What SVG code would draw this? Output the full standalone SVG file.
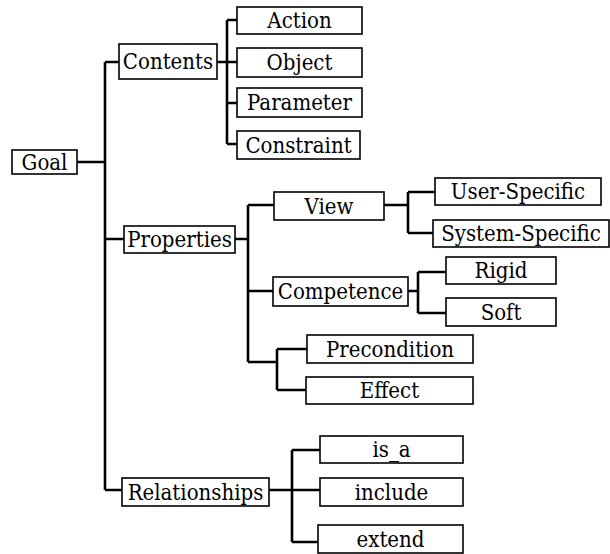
<svg xmlns="http://www.w3.org/2000/svg" width="610" height="554" viewBox="0 0 610 554">
<style>
.n rect{fill:#fff;stroke:#000;stroke-width:1.6}
.n text{font-family:'DejaVu Serif',serif;font-stretch:condensed;font-size:22px;fill:#000;text-anchor:middle}
#connectors path{fill:none;stroke:#000;stroke-width:2.6}
</style>
<rect width="610" height="554" fill="#fff"/>
<g id="connectors">
<path d="M77,162H105M105,62V490M105,62H119M105,239H124M105,490H122"/>
<path d="M217,62H237M227,20V144M227,20H237M227,103H237M227,144H237"/>
<path d="M235,239H248M248,205V362M248,205H274M248,291H273M248,362H277M277,349V390M277,349H307M277,390H306"/>
<path d="M384,205H408M408,192V233M408,192H435M408,233H433"/>
<path d="M408,291H418M418,272V313M418,272H446M418,313H446"/>
<path d="M269,490H292M292,450V542M292,450H320M292,490H320M292,542H318"/>
</g>
<g id="goal" class="n"><rect x="12" y="150" width="65" height="24"/><text x="44.5" y="169.5">Goal</text></g>
<g id="contents" class="n"><rect x="119" y="44" width="98" height="35"/><text x="168" y="69">Contents</text></g>
<g id="action" class="n"><rect x="237" y="7" width="125" height="27"/><text x="299.5" y="28">Action</text></g>
<g id="object" class="n"><rect x="237" y="48" width="125" height="29"/><text x="299.5" y="70">Object</text></g>
<g id="parameter" class="n"><rect x="237" y="88" width="125" height="29"/><text x="299.5" y="110">Parameter</text></g>
<g id="constraint" class="n"><rect x="237" y="131" width="123" height="28"/><text x="298.5" y="152.5">Constraint</text></g>
<g id="properties" class="n"><rect x="124" y="226" width="111" height="27"/><text x="179.5" y="246.5">Properties</text></g>
<g id="view" class="n"><rect x="274" y="192" width="110" height="28"/><text x="329" y="213.5">View</text></g>
<g id="user-specific" class="n"><rect x="435" y="178" width="166" height="27"/><text x="518" y="198.5">User-Specific</text></g>
<g id="system-specific" class="n"><rect x="433" y="220" width="176" height="27"/><text x="521" y="240.5">System-Specific</text></g>
<g id="competence" class="n"><rect x="273" y="277" width="135" height="29"/><text x="340.5" y="299">Competence</text></g>
<g id="rigid" class="n"><rect x="446" y="257" width="110" height="27"/><text x="501" y="277.5">Rigid</text></g>
<g id="soft" class="n"><rect x="446" y="298" width="110" height="28"/><text x="501" y="319.5">Soft</text></g>
<g id="precondition" class="n"><rect x="307" y="335" width="166" height="28"/><text x="390" y="356.5">Precondition</text></g>
<g id="effect" class="n"><rect x="306" y="377" width="167" height="27"/><text x="389.5" y="398">Effect</text></g>
<g id="relationships" class="n"><rect x="122" y="478" width="147" height="28"/><text x="195.5" y="499.5">Relationships</text></g>
<g id="is_a" class="n"><rect x="320" y="436" width="143" height="27"/><text x="391.5" y="456.5">is_a</text></g>
<g id="include" class="n"><rect x="320" y="478" width="143" height="28"/><text x="391.5" y="499.5">include</text></g>
<g id="extend" class="n"><rect x="318" y="525" width="145" height="28"/><text x="390.5" y="546.5">extend</text></g>
</svg>
